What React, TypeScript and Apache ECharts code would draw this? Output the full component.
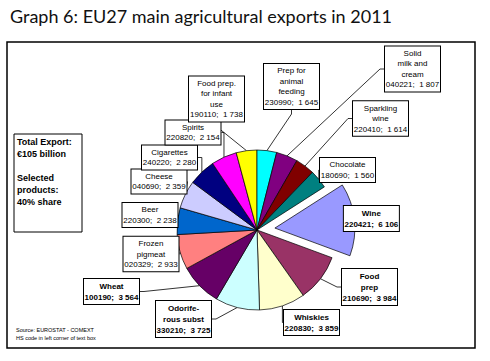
import React, { useEffect, useRef } from "react";
import * as echarts from "echarts";

// ---- data ----
const productNames: string[] = [
  "Wine",
  "Food\nprep",
  "Whiskies",
  "Odorife-\nrous subst",
  "Wheat",
  "Frozen\npigmeat",
  "Beer",
  "Cheese",
  "Cigarettes",
  "Spirits",
  "Food prep.\nfor infant\nuse",
  "Prep for\nanimal\nfeeding",
  "Solid\nmilk and\ncream",
  "Sparkling\nwine",
  "Chocolate",
];
const hsCodes: string[] = [
  "220421", "210690", "220830", "330210", "100190", "020329", "220300", "040690",
  "240220", "220820", "190110", "230990", "040221", "220410", "180690",
];
const exportValues: number[] = [
  6106, 3984, 3859, 3725, 3564, 2933, 2238, 2359, 2280, 2154, 1738, 1645, 1807, 1614, 1560,
];
const totalExportLines: string[] = ["Total Export:", "€105 billion", "", "Selected", "products:", "40% share"];
const sourceLines: string[] = ["Source: EUROSTAT - COMEXT", "HS code in left corner of text box"];
const titleText = "Graph 6: EU27 main agricultural exports in 2011";

// ---- styles / layout ----
const sliceColors = [
  "#9999FF", "#993366", "#FFFFCC", "#CCFFFF", "#660066", "#FF8080", "#0066CC", "#CCCCFF",
  "#000080", "#FF00FF", "#FFFF00", "#00FFFF", "#800080", "#800000", "#008080",
];
const boldLabels = [true, true, true, true, true, false, false, false, false, false, false, false, false, false, false];
const labelCenters: [number, number][] = [
  [381.5, 221.5], [369.5, 287], [311.5, 322.5], [183.5, 319], [111.5, 291.5],
  [151, 254], [150, 215], [159, 181.5], [169.5, 157.5], [193, 132.5],
  [216.5, 99], [291.5, 86.5], [412.5, 69], [380.5, 118.5], [347.5, 170],
];
const FONT = "'Liberation Sans', Arial, sans-serif";

function fmt(v: number): string {
  return String(v).replace(/\B(?=(\d{3})+(?!\d))/g, " ");
}

export default function App() {
  const ref = useRef<HTMLDivElement>(null);
  useEffect(() => {
    if (!ref.current) return;
    const chart = echarts.init(ref.current, undefined, { renderer: "svg" });
    const total = exportValues.reduce((a, b) => a + b, 0);
    const tail = exportValues.slice(11).reduce((a, b) => a + b, 0);
    const startAngle = 90 - (tail / total) * 360;

    const data = exportValues.map((v, i) => ({
      name: productNames[i],
      value: v,
      selected: i === 0,
      itemStyle: { color: sliceColors[i] },
      label: {
        fontWeight: boldLabels[i] ? "bold" : "normal",
        lineHeight: boldLabels[i] ? 11 : 10.5,
      },
    }));

    chart.setOption({
      animation: false,
      title: {
        text: titleText,
        left: 5,
        top: 2,
        textStyle: { fontSize: 18, fontWeight: "normal", color: "#111", fontFamily: "Lato, sans-serif" },
      },
      graphic: [
        {
          type: "rect",
          shape: { x: 7, y: 42, width: 468, height: 306 },
          style: { fill: "#fff", stroke: "#000", lineWidth: 1.5 },
          z: -10,
        },
        {
          type: "rect",
          shape: { x: 14, y: 134, width: 68, height: 98 },
          style: { fill: "#fff", stroke: "#000", lineWidth: 1 },
        },
        {
          type: "text",
          x: 17,
          y: 136,
          style: {
            text: totalExportLines.join("\n"),
            font: `bold 9px ${FONT}`,
            lineHeight: 12,
            fill: "#000",
          },
        },
        {
          type: "text",
          x: 16,
          y: 326,
          style: {
            text: sourceLines.join("\n"),
            font: `5.5px ${FONT}`,
            lineHeight: 8,
            fill: "#000",
          },
        },
      ],
      series: [
        {
          type: "pie",
          center: [257, 230],
          radius: 80,
          startAngle,
          clockwise: true,
          selectedMode: "single",
          selectedOffset: 18,
          avoidLabelOverlap: false,
          emphasis: { disabled: true },
          itemStyle: { borderColor: "#000", borderWidth: 0.7 },
          label: {
            show: true,
            position: "outside",
            formatter: (p: any) => `${p.name}\n${hsCodes[p.dataIndex]};  ${fmt(p.value)}`,
            fontSize: 8,
            fontFamily: FONT,
            color: "#000",
            align: "center",
            width: 53,
            overflow: "none",
            backgroundColor: "#fff",
            borderColor: "#000",
            borderWidth: 1,
            padding: [2, 1, 1, 1],
          },
          labelLine: { show: true, length: 8, length2: 4, lineStyle: { color: "#000", width: 0.8 } },
          labelLayout: (params: any) => ({
            x: labelCenters[params.dataIndex][0],
            y: labelCenters[params.dataIndex][1],
            align: "center",
            verticalAlign: "middle",
          }),
          data,
        },
      ],
    });
    return () => chart.dispose();
  }, []);
  return <div ref={ref} style={{ position: "fixed", left: 0, top: 0, width: 490, height: 361, background: "#fff" }} />;
}
